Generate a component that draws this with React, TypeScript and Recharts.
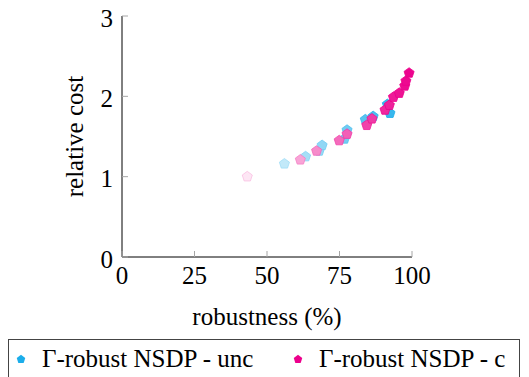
import React from 'react';
import { ScatterChart, Scatter, XAxis, YAxis } from 'recharts';

// robustness (%) vs relative cost
const uncRobustness = [56.0, 63.3, 68.0, 69.0, 76.7, 77.6, 83.9, 86.6, 91.5, 92.4];
const uncCost = [1.16, 1.25, 1.32, 1.39, 1.47, 1.58, 1.71, 1.75, 1.9, 1.79];
const cRobustness = [43.2, 61.5, 67.1, 74.9, 77.6, 84.4, 86.2, 90.7, 92.2, 93.6, 95.6, 97.5, 97.9, 99.0];
const cCost = [1.0, 1.21, 1.32, 1.45, 1.53, 1.64, 1.72, 1.83, 1.89, 1.99, 2.04, 2.13, 2.19, 2.29];

const xTicks = [0, 25, 50, 75, 100];
const yTicks = [0, 1, 2, 3];
const seriesNames = ['Γ-robust NSDP - unc', 'Γ-robust NSDP - c'];
const seriesColors = ['#1badea', '#ec008c'];

const FONT = '"Liberation Serif", "Times New Roman", Times, serif';
const TICK_FS = 25;
const LABEL_FS = 25;
const TICK_GRAY = '#a6a6a6';

const uncData = uncRobustness.map((x, i) => ({ x, y: uncCost[i] }));
const cData = cRobustness.map((x, i) => ({ x, y: cCost[i] }));

// blend colour with white, t = 1 full colour
const mix = (hex: string, t: number) => {
  const n = parseInt(hex.slice(1), 16);
  const ch = [(n >> 16) & 255, (n >> 8) & 255, n & 255].map((c) => Math.round(255 - (255 - c) * t));
  return `rgb(${ch[0]},${ch[1]},${ch[2]})`;
};

const pentagon = (cx: number, cy: number, r: number) => {
  const pts: string[] = [];
  for (let k = 0; k < 5; k++) {
    const a = -Math.PI / 2 + (k * 2 * Math.PI) / 5;
    pts.push(`${cx + r * Math.cos(a)},${cy + r * Math.sin(a)}`);
  }
  return pts.join(' ');
};

const makeShape = (color: string) => (props: any) => {
  const { cx, cy, payload } = props;
  const t = Math.min(1, Math.max(0.1, (payload.x - 40) / 60));
  return (
    <polygon
      points={pentagon(cx, cy, 5.3)}
      fill={mix(color, t)}
      stroke={mix(color, Math.min(1, t + 0.15))}
      strokeWidth={0.8}
    />
  );
};

const tickStyle = { fontFamily: FONT, fontSize: TICK_FS };
const labelStyle = { fontFamily: FONT, fontSize: LABEL_FS };

const BottomTick = (props: any) => {
  const { x, y, payload } = props;
  return (
    <g>
      <line x1={x} y1={y} x2={x} y2={y - 6} stroke={TICK_GRAY} />
      <text x={x} y={y + 27} textAnchor="middle" style={tickStyle} fill="#000">
        {payload.value}
      </text>
    </g>
  );
};

const LeftTick = (props: any) => {
  const { x, y, payload } = props;
  return (
    <g>
      <line x1={x} y1={y} x2={x + 6} y2={y} stroke={TICK_GRAY} />
      <text x={x - 9} y={y + 10.5} textAnchor="end" style={tickStyle} fill="#000">
        {payload.value}
      </text>
    </g>
  );
};

const TopTick = (props: any) => {
  const { x, y } = props;
  return <line x1={x} y1={y} x2={x} y2={y + 6} stroke={TICK_GRAY} />;
};

const RightTick = (props: any) => {
  const { x, y } = props;
  return <line x1={x} y1={y} x2={x - 6} y2={y} stroke={TICK_GRAY} />;
};

const LegendMarker = ({ color }: { color: string }) => (
  <svg width={10} height={10} style={{ display: 'block' }}>
    <polygon points={pentagon(5, 5.3, 4.5)} fill={color} />
  </svg>
);

export default function App() {
  return (
    <div style={{ position: 'absolute', left: 0, top: 0, width: 529, height: 377, background: '#fff', overflow: 'hidden', fontFamily: FONT }}>
      <ScatterChart width={529} height={340} margin={{ top: 16, right: 117, bottom: 13, left: 62 }} style={{ fontFamily: FONT }}>
        <XAxis
          xAxisId="b"
          type="number"
          dataKey="x"
          domain={[0, 100]}
          ticks={xTicks}
          interval={0}
          orientation="bottom"
          height={70}
          tickSize={0}
          tickMargin={0}
          tickLine={false}
          axisLine={{ stroke: '#000' }}
          tick={BottomTick}
          label={{ value: 'robustness (%)', position: 'insideBottom', offset: 2, fill: '#000', style: labelStyle }}
        />
        <XAxis
          xAxisId="t"
          type="number"
          dataKey="x"
          domain={[0, 100]}
          ticks={xTicks}
          interval={0}
          orientation="top"
          height={0}
          tickSize={0}
          tickMargin={0}
          tickLine={false}
          axisLine={{ stroke: '#000' }}
          tick={TopTick}
        />
        <YAxis
          yAxisId="l"
          type="number"
          dataKey="y"
          domain={[0, 3]}
          ticks={yTicks}
          interval={0}
          orientation="left"
          width={60}
          tickSize={0}
          tickMargin={0}
          tickLine={false}
          axisLine={{ stroke: '#000' }}
          tick={LeftTick}
          label={{ value: 'relative cost', angle: -90, position: 'insideLeft', offset: 12, fill: '#000', style: { ...labelStyle, textAnchor: 'middle' } }}
        />
        <YAxis
          yAxisId="r"
          type="number"
          dataKey="y"
          domain={[0, 3]}
          ticks={yTicks}
          interval={0}
          orientation="right"
          width={0}
          tickSize={0}
          tickMargin={0}
          tickLine={false}
          axisLine={{ stroke: '#000' }}
          tick={RightTick}
        />
        <Scatter
          name={seriesNames[0]}
          data={uncData}
          xAxisId="b"
          yAxisId="l"
          shape={makeShape(seriesColors[0])}
          isAnimationActive={false}
        />
        <Scatter
          name={seriesNames[1]}
          data={cData}
          xAxisId="b"
          yAxisId="l"
          shape={makeShape(seriesColors[1])}
          isAnimationActive={false}
        />
      </ScatterChart>
      <div
        style={{
          position: 'absolute',
          left: 8,
          top: 339,
          width: 512,
          height: 60,
          border: '1px solid #444',
          boxSizing: 'border-box',
          fontFamily: FONT,
          fontSize: LABEL_FS,
          color: '#000',
        }}
      >
        {seriesNames.map((name, i) => (
          <div
            key={name}
            style={{ position: 'absolute', left: i === 0 ? 7 : 284, top: 5, display: 'flex', alignItems: 'center', whiteSpace: 'nowrap' }}
          >
            <LegendMarker color={seriesColors[i]} />
            <span style={{ marginLeft: 16, lineHeight: '28px' }}>{name}</span>
          </div>
        ))}
      </div>
    </div>
  );
}
